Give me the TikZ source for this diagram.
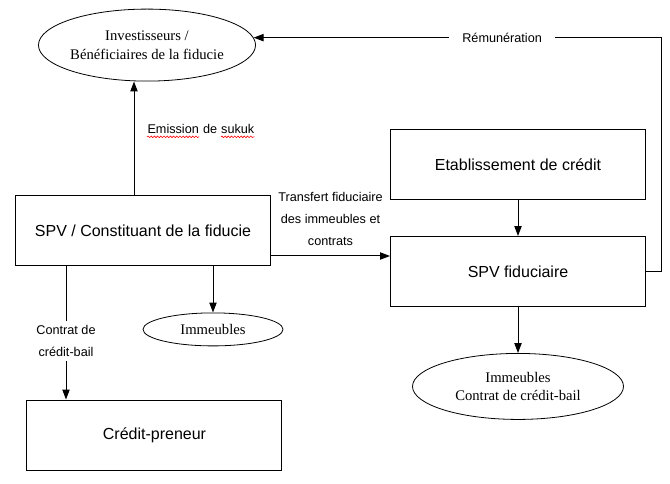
\documentclass[tikz,border=0pt]{standalone}
\usepackage{fontspec}
\setmainfont{Liberation Serif}
\setsansfont{Liberation Sans}
\usetikzlibrary{arrows.meta,positioning,shapes.geometric,decorations.pathmorphing}
\tikzset{
  box/.style={
    rectangle, draw, line width=0.75pt,
    minimum width=191.25pt, minimum height=52.5pt,
    text centered, font=\sffamily\fontsize{12}{14}\selectfont
  },
  bubble/.style={
    ellipse, draw, line width=0.6pt, inner sep=0pt,
    minimum width=157.5pt, minimum height=54pt,
    align=center, font=\fontsize{11}{14}\selectfont
  },
  lbl/.style={font=\sffamily\fontsize{9.5}{16.5}\selectfont, align=center},
  word/.style={font=\sffamily\fontsize{9.5}{16.5}\selectfont, inner xsep=0pt},
  arrow/.style={-{Triangle[length=7.5pt,width=5.5pt]}, line width=0.75pt},
  spell/.style={red, line width=0.45pt, decorate,
    decoration={snake, amplitude=0.6pt, segment length=2.4pt}},
}

\begin{document}
\begin{tikzpicture}[x=0.75pt, y=-0.75pt]
  \useasboundingbox (0,0) rectangle (670,484);

  % Left column
  \node[box] (spv) at (143,231) {SPV / Constituant de la fiducie};
  \node[bubble, above=85.5pt of spv, xshift=3pt] (invest)
    {Investisseurs /\\B\'en\'eficiaires de la fiducie};
  \node[bubble, below=34.5pt of spv, xshift=52.5pt,
    minimum width=105pt, minimum height=24.75pt] (imm) {Immeubles};
  \node[box, below=99.75pt of spv, xshift=8.6pt] (lessee) {Crédit-preneur};

  % Right column
  \node[box, right=89.25pt of spv, yshift=-30.4pt] (spvfid) {SPV fiduciaire};
  \node[box, above=27pt of spvfid] (bank) {Etablissement de crédit};
  \node[bubble, below=34.5pt of spvfid, minimum width=158.25pt, minimum height=49.5pt] (assets)
    {Immeubles\\Contrat de crédit-bail};

  % Sukuk issue
  \draw[arrow] ([xshift=-6.75pt]spv.north) -- ([xshift=-6.75pt]spv.north |- invest.south)
    node[word, pos=0.58, right=9.75pt] (em) {Emission};
  \node[word, base right=2.6pt of em] (de) {de};
  \node[word, base right=2.6pt of de] (suk) {sukuk};
  \draw[spell] ([yshift=-2.2pt]em.base west) -- ([yshift=-2.2pt]em.base east);
  \draw[spell] ([yshift=-2.2pt]suk.base west) -- ([yshift=-2.2pt]suk.base east);

  % Transfer to the trustee
  \draw[arrow] ([yshift=-18.75pt]spv.east) -- ([yshift=-18.75pt]spv.east -| spvfid.west)
    node[lbl, midway, above=4pt] {Transfert fiduciaire\\des immeubles et\\contrats};

  % Assets and lease
  \draw[arrow] (imm.north |- spv.south) -- (imm.north);
  \draw[arrow] ([xshift=-57.75pt]spv.south) -- ([xshift=-57.75pt]spv.south |- lessee.north)
    node[lbl, pos=0.56, fill=white] {Contrat de\\crédit-bail};

  % Trustee side
  \draw[arrow] (bank) -- (spvfid);
  \draw[arrow] (spvfid) -- (assets);

  % Remuneration back to investors
  \draw[arrow] (spvfid.east) -- ++(11.25pt,0) |- (invest.4)
    node[lbl, pos=0.695, fill=white, inner xsep=10pt] {Rémunération};
\end{tikzpicture}
\end{document}
